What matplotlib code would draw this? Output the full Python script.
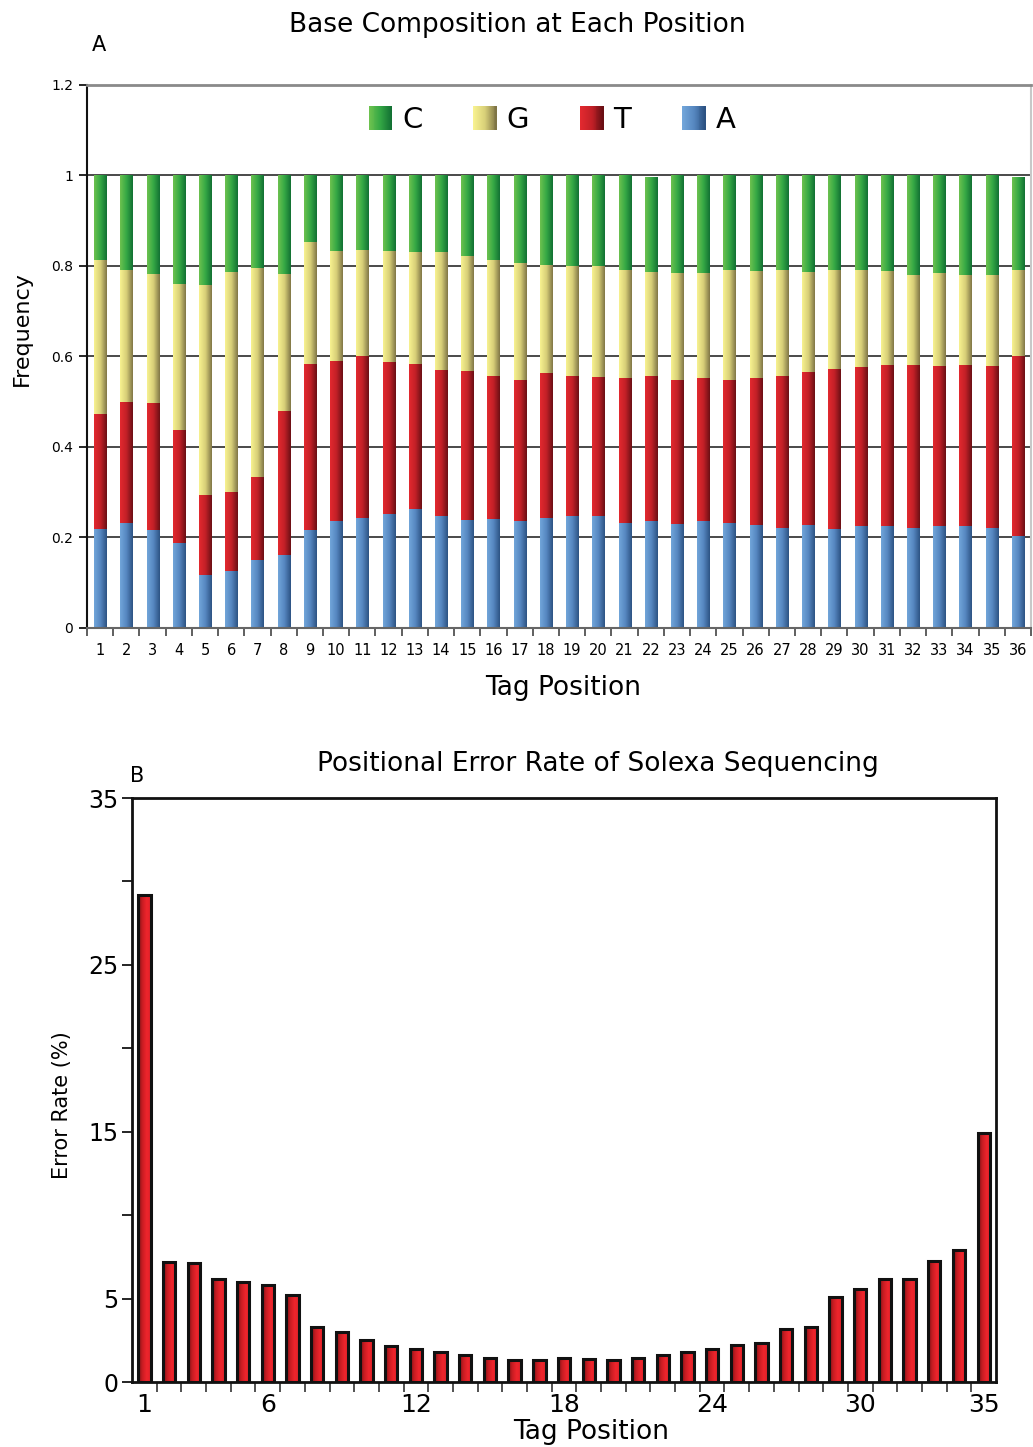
import numpy as np
import matplotlib
matplotlib.use("Agg")
import matplotlib.pyplot as plt
from matplotlib.colors import LinearSegmentedColormap
from matplotlib.legend_handler import HandlerBase
from matplotlib.patches import Rectangle
from matplotlib.ticker import FixedLocator

plt.rcParams['font.family'] = ['DejaVu Sans']

# ---------------- data ----------------
positions_a = list(range(1, 37))
freq_A = [0.219, 0.231, 0.217, 0.188, 0.118, 0.127, 0.151, 0.162, 0.217, 0.237, 0.244, 0.251,
          0.262, 0.247, 0.238, 0.240, 0.236, 0.244, 0.247, 0.247, 0.231, 0.236, 0.229, 0.236,
          0.233, 0.227, 0.222, 0.227, 0.218, 0.225, 0.225, 0.222, 0.225, 0.225, 0.220, 0.203]
freq_T = [0.253, 0.268, 0.280, 0.250, 0.176, 0.174, 0.183, 0.317, 0.366, 0.352, 0.357, 0.336,
          0.322, 0.324, 0.330, 0.316, 0.313, 0.319, 0.310, 0.307, 0.321, 0.320, 0.320, 0.316,
          0.316, 0.325, 0.334, 0.338, 0.355, 0.352, 0.357, 0.360, 0.355, 0.357, 0.358, 0.399]
freq_G = [0.342, 0.291, 0.286, 0.323, 0.465, 0.485, 0.461, 0.304, 0.269, 0.245, 0.235, 0.245,
          0.246, 0.259, 0.255, 0.258, 0.257, 0.240, 0.242, 0.245, 0.240, 0.230, 0.235, 0.232,
          0.241, 0.236, 0.236, 0.221, 0.217, 0.213, 0.206, 0.197, 0.204, 0.197, 0.203, 0.188]
freq_C = [0.186, 0.210, 0.217, 0.239, 0.241, 0.214, 0.205, 0.217, 0.148, 0.166, 0.164, 0.168,
          0.170, 0.170, 0.177, 0.186, 0.194, 0.197, 0.201, 0.201, 0.208, 0.211, 0.216, 0.216,
          0.210, 0.212, 0.208, 0.214, 0.210, 0.210, 0.212, 0.221, 0.216, 0.221, 0.219, 0.207]
bases = ['C', 'G', 'T', 'A']

positions_b = list(range(1, 36))
error_rate = [29.2, 7.2, 7.15, 6.2, 6.0, 5.8, 5.2, 3.3, 3.0, 2.5, 2.15, 1.98,
              1.8, 1.6, 1.45, 1.3, 1.33, 1.42, 1.4, 1.35, 1.45, 1.6, 1.8, 1.95,
              2.2, 2.35, 3.15, 3.3, 5.1, 5.55, 6.2, 6.15, 7.28, 7.9, 14.95]
err_yticks = [0, 5, 10, 15, 20, 25, 30, 35]
err_yticklabels = ['0', '5', '', '15', '', '25', '', '35']
err_xticks = [1, 6, 12, 18, 24, 30, 35]

# ---------------- styles ----------------
grad_colors = {
    'C': ['#6dc24f', '#35a845', '#127033'],
    'G': ['#f8f290', '#d8cf78', '#7f7546'],
    'T': ['#e3292f', '#c22027', '#6a0f14'],
    'A': ['#72a6da', '#5687c0', '#2c5283'],
}
err_colors = ['#7a1215', '#c81c22', '#ee252c', '#e0222a']


def gradient_fill(ax, bars, colors, zorder):
    cmap = LinearSegmentedColormap.from_list('g', colors)
    grad = np.linspace(0, 1, 256).reshape(1, -1)
    for b in bars:
        x, y = b.get_xy()
        w, h = b.get_width(), b.get_height()
        im = ax.imshow(grad, cmap=cmap, extent=[x, x + w, y, y + h], aspect='auto',
                       zorder=zorder, interpolation='bilinear')
        im.set_clip_path(b)


class GradHandler(HandlerBase):
    def __init__(self, colors):
        super().__init__()
        self.colors = colors

    def create_artists(self, legend, orig_handle, xdescent, ydescent, width, height,
                       fontsize, trans):
        cmap = LinearSegmentedColormap.from_list('g', self.colors)
        n = 24
        h = height * 1.25
        y0 = -ydescent - (h - height) / 2
        arts = []
        for i in range(n):
            r = Rectangle((-xdescent + i * width / n, y0), width / n + 0.3, h,
                          facecolor=cmap(i / (n - 1)), edgecolor='none', lw=0,
                          transform=trans)
            arts.append(r)
        return arts


fig = plt.figure(figsize=(10.33, 14.47), dpi=100)

# ---------------- panel A ----------------
ax1 = fig.add_axes([0.0842, 0.566, 0.9139, 0.3753])
x = np.array(positions_a)
w = 0.46
bottom = np.zeros(len(x))
stack = [('A', freq_A), ('T', freq_T), ('G', freq_G), ('C', freq_C)]
handles = {}
for name, vals in stack:
    bars = ax1.bar(x, vals, w, bottom=bottom, facecolor='none', edgecolor='none',
                   zorder=3, label=name)
    gradient_fill(ax1, bars, grad_colors[name], zorder=2.5)
    handles[name] = bars
    bottom = bottom + np.array(vals)

ax1.set_xlim(0.5, 36.5)
ax1.set_ylim(0, 1.2)
ax1.set_yticks([0, 0.2, 0.4, 0.6, 0.8, 1.0, 1.2])
ax1.set_yticklabels(['0', '0.2', '0.4', '0.6', '0.8', '1', '1.2'], fontsize=10)
for yv in [0.2, 0.4, 0.6, 0.8, 1.0]:
    ax1.axhline(yv, color='#4a4a4a', lw=1.4, zorder=1)
ax1.set_xticks(x)
ax1.set_xticklabels([str(i) for i in positions_a], fontsize=10.5)
ax1.xaxis.set_minor_locator(FixedLocator(np.arange(0.5, 37, 1)))
ax1.tick_params(axis='x', which='major', length=0, pad=11)
ax1.tick_params(axis='x', which='minor', length=6, width=1.2, color='#444')
ax1.tick_params(axis='y', length=6, width=1.2, pad=4)
ax1.spines['left'].set_color('#111')
ax1.spines['left'].set_linewidth(1.5)
ax1.spines['bottom'].set_color('#666')
ax1.spines['bottom'].set_linewidth(1.5)
ax1.spines['top'].set_color('#8a8a8a')
ax1.spines['top'].set_linewidth(2)
ax1.spines['right'].set_color('#c8c8c8')
ax1.spines['right'].set_linewidth(1.5)

leg = ax1.legend([handles[b] for b in bases], bases, ncol=4, loc='center',
                 bbox_to_anchor=(0.4926, 0.9355), frameon=False, fontsize=21,
                 handlelength=0.79, handleheight=0.65, handletextpad=0.35,
                 columnspacing=1.75,
                 handler_map={handles[b]: GradHandler(grad_colors[b]) for b in bases})

fig.text(0.5005, 0.9827, 'Base Composition at Each Position', fontsize=19,
         ha='center', va='center')
fig.text(0.0958, 0.9689, 'A', fontsize=15, ha='center', va='center')
fig.text(0.0213, 0.773, 'Frequency', fontsize=16, rotation=90, ha='center', va='center')
fig.text(0.5455, 1 - 688 / 1447, 'Tag Position', fontsize=19, ha='center', va='center')

# ---------------- panel B ----------------
ax2 = fig.add_axes([0.1278, 0.0449, 0.8364, 0.4036])
xb = np.array(positions_b)
bars_b = ax2.bar(xb, error_rate, 0.5, facecolor='none', edgecolor='#111111',
                 linewidth=2.2, zorder=3)
gradient_fill(ax2, bars_b, err_colors, zorder=2.5)
ax2.set_xlim(0.5, 35.5)
ax2.set_ylim(0, 35)
ax2.set_yticks(err_yticks)
ax2.set_yticklabels(err_yticklabels, fontsize=17)
ax2.set_xticks(err_xticks)
ax2.set_xticklabels([str(v) for v in err_xticks], fontsize=18)
ax2.xaxis.set_minor_locator(FixedLocator(np.arange(1.5, 35, 1)))
ax2.tick_params(axis='x', which='major', length=0, pad=8)
ax2.tick_params(axis='x', which='minor', length=7, width=1.2, color='#333')
ax2.tick_params(axis='y', length=7, width=1.2, pad=3)
for s in ax2.spines.values():
    s.set_linewidth(2)
    s.set_color('#111')

fig.text(0.5789, 1 - 764 / 1447, 'Positional Error Rate of Solexa Sequencing',
         fontsize=19, ha='center', va='center')
fig.text(0.1326, 1 - 776 / 1447, 'B', fontsize=15, ha='center', va='center')
fig.text(0.06, 1 - 1105 / 1447, 'Error Rate (%)', fontsize=15, rotation=90,
         ha='center', va='center')
fig.text(0.572, 1 - 1432 / 1447, 'Tag Position', fontsize=19, ha='center', va='center')

fig.savefig('out.png', dpi=100)
